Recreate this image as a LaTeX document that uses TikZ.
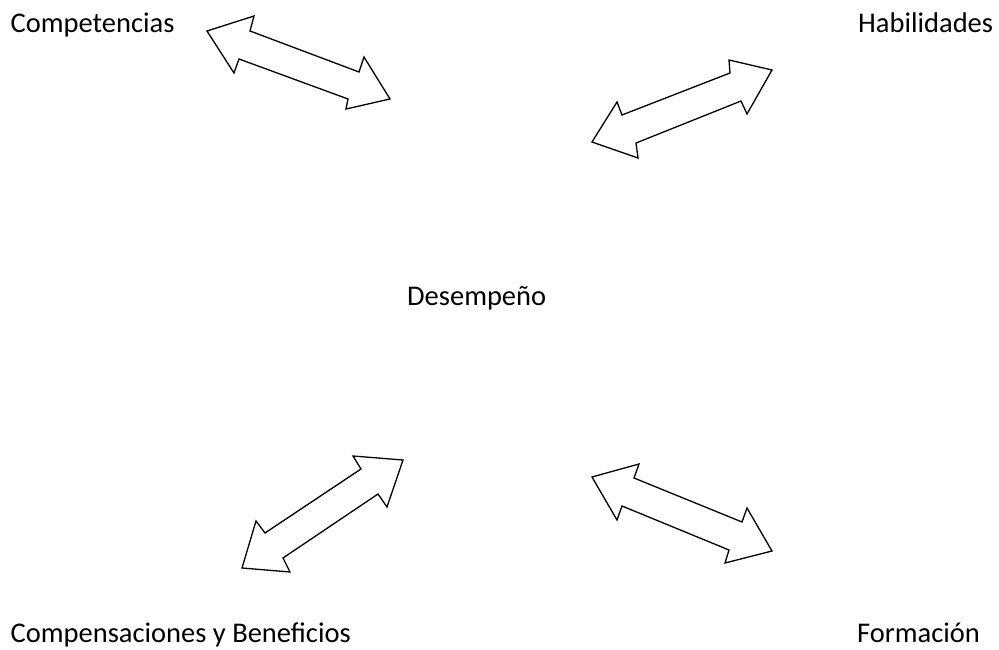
\documentclass[tikz,border=0pt]{standalone}
\usepackage{fontspec}
\setmainfont{Carlito}
\begin{document}
\begin{tikzpicture}[x=1pt,y=-1pt,
  lbl/.style={font=\fontsize{28.5}{32}\selectfont, inner sep=0pt, anchor=base west},
  blockarrow/.style={draw=black, line width=1.3pt, fill=white, line join=miter}]
\useasboundingbox (0,0) rectangle (999,650);
% labels
\node[lbl] (comp) at (10.5,32.5) {Competencias};
\node[lbl] (hab) at (858,32.5) {Habilidades};
\node[lbl] (des) at (407,305) {Desempeño};
\node[lbl] (cb) at (10.5,642) {Compensaciones y Beneficios};
\node[lbl] (form) at (857,642) {Formación};
% arrow top-left
\draw[blockarrow] (207,31) -- (254,16) -- (250,31) -- (359,72) -- (364,57) -- (390,99)
  -- (346,109) -- (348,99) -- (239,59) -- (234,73) -- cycle;
% arrow top-right
\draw[blockarrow] (772,70) -- (729,60) -- (730,73) -- (622,115) -- (617,102) -- (592,142)
  -- (638,158) -- (636,143) -- (741,101) -- (747,114) -- cycle;
% arrow bottom-left
\draw[blockarrow] (403,460) -- (353,456) -- (361,469) -- (265,533) -- (256,521) -- (242,568)
  -- (290,572) -- (283,558) -- (378,494) -- (387,507) -- cycle;
% arrow bottom-right
\draw[blockarrow] (592,477) -- (639,464) -- (634,478) -- (742,522) -- (747,508) -- (772,551)
  -- (725,563) -- (729,550) -- (622,506) -- (617,520) -- cycle;
\end{tikzpicture}
\end{document}
